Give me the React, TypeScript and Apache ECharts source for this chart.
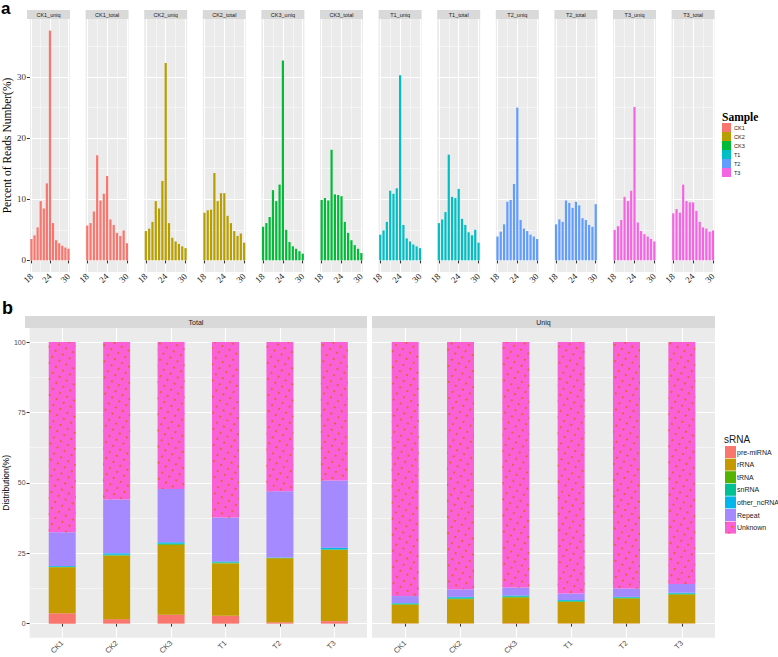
import React, { useEffect, useRef } from "react";
import * as echarts from "echarts";

// ---------- Panel a data ----------
const NT = [18, 19, 20, 21, 22, 23, 24, 25, 26, 27, 28, 29, 30];
const SAMPLES = ["CK1", "CK2", "CK3", "T1", "T2", "T3"];
const SAMPLE_COLORS = ["#F8766D", "#B79F00", "#00BA38", "#00BFC4", "#619CFF", "#F564E3"];

const CK1_UNIQ = [3.5, 4.1, 5.4, 9.7, 8.5, 12.6, 37.6, 6.1, 3.3, 2.8, 2.4, 2.1, 1.9];
const CK1_TOTAL = [5.7, 6.1, 8.0, 17.2, 9.8, 10.9, 13.8, 6.7, 5.8, 4.5, 4.0, 4.9, 2.8];
const CK2_UNIQ = [4.8, 5.2, 6.3, 9.7, 8.5, 13.0, 32.3, 6.1, 3.7, 3.1, 2.7, 2.3, 2.0];
const CK2_TOTAL = [7.8, 8.2, 8.3, 14.3, 9.7, 11.0, 11.0, 7.3, 6.1, 4.8, 4.0, 4.4, 2.9];
const CK3_UNIQ = [5.5, 6.1, 7.1, 11.5, 9.7, 12.4, 32.7, 5.0, 3.0, 2.3, 1.9, 1.5, 1.1];
const CK3_TOTAL = [9.9, 10.2, 9.8, 18.1, 10.8, 10.7, 10.5, 6.3, 4.5, 3.3, 2.5, 1.9, 1.2];
const T1_UNIQ = [4.2, 4.9, 6.3, 11.4, 10.9, 11.8, 30.3, 5.8, 3.6, 3.1, 2.6, 2.3, 2.0];
const T1_TOTAL = [6.1, 6.7, 7.9, 17.3, 10.4, 10.2, 11.7, 6.8, 5.8, 4.6, 4.1, 5.0, 2.9];
const T2_UNIQ = [3.9, 4.7, 5.9, 9.6, 9.9, 12.5, 25.0, 6.6, 5.2, 4.8, 4.2, 3.9, 3.5];
const T2_TOTAL = [5.9, 6.7, 6.3, 9.8, 9.4, 8.6, 9.6, 9.0, 6.9, 6.6, 5.8, 5.5, 9.2];
const T3_UNIQ = [5.0, 5.6, 6.6, 10.4, 9.7, 11.4, 25.1, 6.2, 4.8, 4.3, 3.9, 3.5, 3.1];
const T3_TOTAL = [7.7, 8.4, 7.8, 12.4, 9.7, 9.5, 9.5, 8.1, 6.3, 5.4, 5.2, 4.7, 4.9];

const FACET_NAMES = [
  "CK1_uniq", "CK1_total", "CK2_uniq", "CK2_total", "CK3_uniq", "CK3_total",
  "T1_uniq", "T1_total", "T2_uniq", "T2_total", "T3_uniq", "T3_total",
];
const FACET_SAMPLE = [0, 0, 1, 1, 2, 2, 3, 3, 4, 4, 5, 5];
const FACET_VALUES = [
  CK1_UNIQ, CK1_TOTAL, CK2_UNIQ, CK2_TOTAL, CK3_UNIQ, CK3_TOTAL,
  T1_UNIQ, T1_TOTAL, T2_UNIQ, T2_TOTAL, T3_UNIQ, T3_TOTAL,
];
const A_X_TICKS = [18, 24, 30];
const A_Y_TICKS = [0, 10, 20, 30];

// ---------- Panel b data ----------
const B_SAMPLES = ["CK1", "CK2", "CK3", "T1", "T2", "T3"];
const B_POS = [1, 2, 3, 4, 5, 6];
const B_FACETS = ["Total", "Uniq"];
const SRNA_TYPES = ["pre-miRNA", "rRNA", "tRNA", "snRNA", "other_ncRNA", "Repeat", "Unknown"];
const SRNA_COLORS = ["#F8766D", "#C49A00", "#53B400", "#00C094", "#00B6EB", "#A58AFF", "#FB61D7"];
const B_Y_TICKS = [0, 25, 50, 75, 100];

const TOTAL_PRE_MIRNA = [3.7, 1.6, 3.2, 2.8, 0.5, 0.9];
const TOTAL_RRNA = [16.3, 22.6, 24.7, 18.6, 22.7, 25.3];
const TOTAL_TRNA = [0.1, 0.1, 0.3, 0.2, 0.1, 0.1];
const TOTAL_SNRNA = [0.1, 0.2, 0.2, 0.2, 0.1, 0.2];
const TOTAL_OTHER = [0.3, 0.5, 0.5, 0.3, 0.1, 0.5];
const TOTAL_REPEAT = [12.0, 19.1, 18.9, 15.6, 23.5, 23.8];
const TOTAL_UNKNOWN = [67.5, 55.9, 52.2, 62.3, 53.0, 49.2];

const UNIQ_PRE_MIRNA = [0.1, 0.1, 0.1, 0.1, 0.1, 0.1];
const UNIQ_RRNA = [6.6, 8.6, 9.2, 7.6, 8.8, 10.2];
const UNIQ_TRNA = [0.2, 0.2, 0.2, 0.2, 0.2, 0.2];
const UNIQ_SNRNA = [0.2, 0.3, 0.2, 0.2, 0.2, 0.2];
const UNIQ_OTHER = [0.2, 0.3, 0.3, 0.3, 0.2, 0.3];
const UNIQ_REPEAT = [2.5, 2.7, 2.8, 2.3, 3.0, 3.1];
const UNIQ_UNKNOWN = [90.2, 87.8, 87.2, 89.3, 87.5, 85.9];

const TOTAL_SERIES = [TOTAL_PRE_MIRNA, TOTAL_RRNA, TOTAL_TRNA, TOTAL_SNRNA, TOTAL_OTHER, TOTAL_REPEAT, TOTAL_UNKNOWN];
const UNIQ_SERIES = [UNIQ_PRE_MIRNA, UNIQ_RRNA, UNIQ_TRNA, UNIQ_SNRNA, UNIQ_OTHER, UNIQ_REPEAT, UNIQ_UNKNOWN];

// ---------- Layout ----------
const SERIF = '"Liberation Serif", "DejaVu Serif", serif';
const SANS = '"Liberation Sans", Arial, sans-serif';
const PANEL_BG = "#EBEBEB";
const STRIP_BG = "#D9D9D9";

const A_LEFT0 = 27;
const A_STEP = 58.6;
const A_W = 43;
const A_STRIP_TOP = 10;
const A_STRIP_H = 9;
const A_TOP = 19;
const A_H = 253;

const B_LEFTS = [25, 372];
const B_WIDTHS = [342, 343];
const B_STRIP_TOP = 316;
const B_STRIP_H = 12;
const B_TOP = 328;
const B_H = 314;
// discrete x scale with ggplot's 0.6-unit expansion, sampled in 0.2 steps
const B_X_MIN = 0.4;
const B_X_STEP = 0.2;
const B_X_COUNT = 32;

const isInt = (v: number) => Math.abs(v - Math.round(v)) < 1e-6;

function buildOption() {
  const grid: any[] = [];
  const xAxis: any[] = [];
  const yAxis: any[] = [];
  const series: any[] = [];
  const graphic: any[] = [];

  // Panel a
  FACET_NAMES.forEach((name, i) => {
    const left = A_LEFT0 + i * A_STEP;
    grid.push({ left, top: A_TOP, width: A_W, height: A_H, show: true, backgroundColor: PANEL_BG, borderWidth: 0 });
    xAxis.push({
      gridIndex: i, type: "value", min: 17.5, max: 30.5, minInterval: 6, maxInterval: 6,
      axisLine: { show: false },
      axisTick: { show: true, length: 3, customValues: A_X_TICKS, lineStyle: { color: "#333333", width: 1 } },
      axisLabel: {
        show: true, customValues: A_X_TICKS, rotate: 45, margin: 3, fontFamily: SERIF, fontSize: 9, color: "#1A1A1A",
        formatter: (v: number) => (isInt(v) ? String(v) : ""),
      },
      splitLine: { show: true, lineStyle: { color: "#FFFFFF", width: 1 } },
      minorTick: { show: false, splitNumber: 2 },
      minorSplitLine: { show: true, lineStyle: { color: "#FFFFFF", width: 0.5 } },
    });
    yAxis.push({
      gridIndex: i, type: "value", min: -1.9, max: 39.5, minInterval: 10, maxInterval: 10,
      name: i === 0 ? "Percent of Reads Number(%)" : "",
      nameLocation: "middle", nameGap: 12, nameRotate: 90,
      nameTextStyle: { fontFamily: SERIF, fontSize: 11.5, color: "#000000" },
      axisLine: { show: false },
      axisTick: { show: i === 0, length: 3, customValues: A_Y_TICKS, lineStyle: { color: "#333333" } },
      axisLabel: {
        show: i === 0, customValues: A_Y_TICKS, margin: 4, fontFamily: SERIF, fontSize: 9, color: "#333333",
        formatter: (v: number) => (isInt(v) ? String(v) : ""),
      },
      splitLine: { show: true, lineStyle: { color: "#FFFFFF", width: 1 } },
      minorTick: { show: false, splitNumber: 2 },
      minorSplitLine: { show: true, lineStyle: { color: "#FFFFFF", width: 0.5 } },
    });
    const s = FACET_SAMPLE[i];
    series.push({
      type: "bar", name: SAMPLES[s], xAxisIndex: i, yAxisIndex: i, barWidth: 2.2, silent: true,
      itemStyle: { color: SAMPLE_COLORS[s] },
      data: NT.map((n, j) => [n, FACET_VALUES[i][j]]),
    });
    graphic.push({ type: "rect", shape: { x: left, y: A_STRIP_TOP, width: A_W, height: A_STRIP_H }, style: { fill: STRIP_BG }, silent: true });
    graphic.push({
      type: "text", x: left + A_W / 2, y: A_STRIP_TOP + A_STRIP_H / 2, silent: true,
      style: { text: name, fill: "#1A1A1A", fontSize: 5.5, fontFamily: SANS, align: "center", verticalAlign: "middle" },
    });
  });

  // Panel b: category positions every 0.2 units from 0.4 to 6.6
  const bCats: string[] = [];
  for (let k = 0; k < B_X_COUNT; k++) bCats.push((B_X_MIN + B_X_STEP * k).toFixed(1));
  const sampleIdx = B_POS.map((p) => Math.round((p - B_X_MIN) / B_X_STEP));
  const isSampleIdx = (idx: number) => sampleIdx.indexOf(idx) >= 0;

  B_FACETS.forEach((facet, k) => {
    const gi = FACET_NAMES.length + k;
    const left = B_LEFTS[k];
    const width = B_WIDTHS[k];
    grid.push({ left, top: B_TOP, width, height: B_H, show: true, backgroundColor: PANEL_BG, borderWidth: 0 });
    xAxis.push({
      gridIndex: gi, type: "category", data: bCats, boundaryGap: false,
      axisLine: { show: false },
      axisTick: { show: true, length: 3, interval: (idx: number) => isSampleIdx(idx), lineStyle: { color: "#333333" } },
      axisLabel: {
        show: true, interval: (idx: number) => isSampleIdx(idx), rotate: 45, margin: 4,
        fontFamily: SANS, fontSize: 7.5, color: "#4D4D4D",
        formatter: (_v: string, idx: number) => {
          const j = sampleIdx.indexOf(idx);
          return j >= 0 ? B_SAMPLES[j] : "";
        },
      },
      splitLine: { show: true, interval: (idx: number) => isSampleIdx(idx), lineStyle: { color: "#FFFFFF", width: 1 } },
    });
    yAxis.push({
      gridIndex: gi, type: "value", min: -5, max: 105, minInterval: 25, maxInterval: 25,
      name: k === 0 ? "Distribution(%)" : "",
      nameLocation: "middle", nameGap: 16, nameRotate: 90,
      nameTextStyle: { fontFamily: SANS, fontSize: 8.5, color: "#000000" },
      axisLine: { show: false },
      axisTick: { show: k === 0, length: 3, customValues: B_Y_TICKS, lineStyle: { color: "#333333" } },
      axisLabel: {
        show: k === 0, customValues: B_Y_TICKS, margin: 4, fontFamily: SANS, fontSize: 7, color: "#4D4D4D",
        formatter: (v: number) => (isInt(v) ? String(v) : ""),
      },
      splitLine: { show: true, lineStyle: { color: "#FFFFFF", width: 1 } },
      minorTick: { show: false, splitNumber: 2 },
      minorSplitLine: { show: true, lineStyle: { color: "#FFFFFF", width: 0.5 } },
    });
    const vals = k === 0 ? TOTAL_SERIES : UNIQ_SERIES;
    SRNA_TYPES.forEach((t, ti) => {
      const itemStyle: any = { color: SRNA_COLORS[ti] };
      if (t === "Unknown") {
        itemStyle.decal = {
          symbol: "rect", symbolSize: 1, color: "rgba(232,96,40,0.85)",
          dashArrayX: [1.1, 6], dashArrayY: [1.1, 5], rotation: 0.5,
        };
      }
      series.push({
        type: "bar", name: t, xAxisIndex: gi, yAxisIndex: gi, stack: facet, barWidth: 27, silent: true,
        itemStyle,
        data: bCats.map((_c, idx) => {
          const j = sampleIdx.indexOf(idx);
          return j >= 0 ? vals[ti][j] : "-";
        }),
      });
    });
    graphic.push({ type: "rect", shape: { x: left, y: B_STRIP_TOP, width, height: B_STRIP_H }, style: { fill: STRIP_BG }, silent: true });
    graphic.push({
      type: "text", x: left + width / 2, y: B_STRIP_TOP + B_STRIP_H / 2, silent: true,
      style: { text: facet, fill: "#1A1A1A", fontSize: 7, fontFamily: SANS, align: "center", verticalAlign: "middle" },
    });
  });

  // Panel tags and legend titles
  graphic.push({ type: "text", x: 1, y: 0, silent: true, style: { text: "a", fill: "#000", fontSize: 17, fontWeight: "bold", fontFamily: SANS, align: "left", verticalAlign: "top" } });
  graphic.push({ type: "text", x: 2, y: 299, silent: true, style: { text: "b", fill: "#000", fontSize: 18, fontWeight: "bold", fontFamily: SANS, align: "left", verticalAlign: "top" } });
  graphic.push({ type: "text", x: 722, y: 111, silent: true, style: { text: "Sample", fill: "#000", fontSize: 11.5, fontWeight: "bold", fontFamily: SERIF, align: "left", verticalAlign: "top" } });
  graphic.push({ type: "text", x: 724, y: 434, silent: true, style: { text: "sRNA", fill: "#1A1A1A", fontSize: 10, fontFamily: SANS, align: "left", verticalAlign: "top" } });

  return {
    animation: false,
    backgroundColor: "#FFFFFF",
    grid, xAxis, yAxis, series, graphic,
    legend: [
      {
        data: SAMPLES, orient: "vertical", left: 722, top: 123, padding: 0, itemGap: 0,
        itemWidth: 9, itemHeight: 9, icon: "rect", selectedMode: false,
        textStyle: { fontSize: 5.5, fontFamily: SANS, color: "#1A1A1A", padding: [0, 0, 0, -2] },
      },
      {
        data: SRNA_TYPES, orient: "vertical", left: 725, top: 446, padding: 0, itemGap: 0.6,
        itemWidth: 11, itemHeight: 12, icon: "rect", selectedMode: false,
        textStyle: { fontSize: 7, fontFamily: SANS, color: "#1A1A1A", padding: [0, 0, 0, -4] },
      },
    ],
  };
}

export default function App() {
  const ref = useRef<HTMLDivElement>(null);
  useEffect(() => {
    if (!ref.current) return;
    const chart = echarts.init(ref.current, undefined, { renderer: "svg" });
    chart.setOption(buildOption() as any);
    return () => chart.dispose();
  }, []);
  return <div ref={ref} style={{ position: "fixed", left: 0, top: 0, width: 778, height: 657 }} />;
}
